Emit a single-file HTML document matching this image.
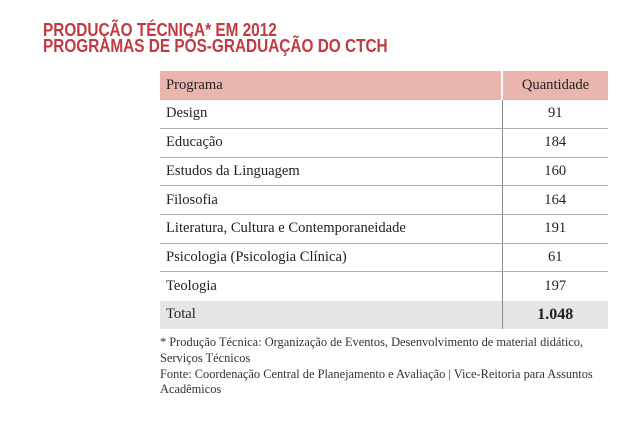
<!DOCTYPE html>
<html><head><meta charset="utf-8"><style>
body{margin:0;background:#fff;width:640px;height:429px;position:relative;overflow:hidden;font-family:"Liberation Serif",serif;color:#222}
.t{position:absolute;left:43px;font-family:"Liberation Sans",sans-serif;font-weight:bold;color:#c23a40;font-size:18.5px;line-height:18px;white-space:nowrap;transform:scaleX(0.83);transform-origin:0 0}
table{position:absolute;left:160px;top:71px;width:448px;border-collapse:collapse;font-size:14.6px}
td{height:28.7px;padding:0 0 0 6px;border-bottom:1.5px solid #aaa;box-sizing:border-box}
td.q{text-align:center;width:106px;border-left:1.5px solid #888;padding:0}
tr.h td{background:#e9b5ad;border-bottom:none}
tr.h td.q{border-left:2px solid #fff}
tr.tot td{background:#e6e6e6;border-bottom:none}
tr.tot td.q{font-size:16px;font-weight:bold}
tr:nth-last-child(2) td{border-bottom:none}
.f{position:absolute;left:160px;top:335px;font-size:12.4px;line-height:15.8px;color:#333;width:480px}
</style></head><body>
<div class="t" style="top:21px">PRODUÇÃO TÉCNICA* EM 2012</div>
<div class="t" style="top:37px">PROGRAMAS DE PÓS-GRADUAÇÃO DO CTCH</div>
<table>
<tr class="h"><td>Programa</td><td class="q">Quantidade</td></tr>
<tr><td>Design</td><td class="q">91</td></tr>
<tr><td>Educação</td><td class="q">184</td></tr>
<tr><td>Estudos da Linguagem</td><td class="q">160</td></tr>
<tr><td>Filosofia</td><td class="q">164</td></tr>
<tr><td>Literatura, Cultura e Contemporaneidade</td><td class="q">191</td></tr>
<tr><td>Psicologia (Psicologia Clínica)</td><td class="q">61</td></tr>
<tr><td>Teologia</td><td class="q">197</td></tr>
<tr class="tot"><td>Total</td><td class="q">1.048</td></tr>
</table>
<div class="f">* Produção Técnica: Organização de Eventos, Desenvolvimento de material didático,<br>Serviços Técnicos<br>Fonte: Coordenação Central de Planejamento e Avaliação | Vice-Reitoria para Assuntos<br>Acadêmicos</div>
</body></html>
